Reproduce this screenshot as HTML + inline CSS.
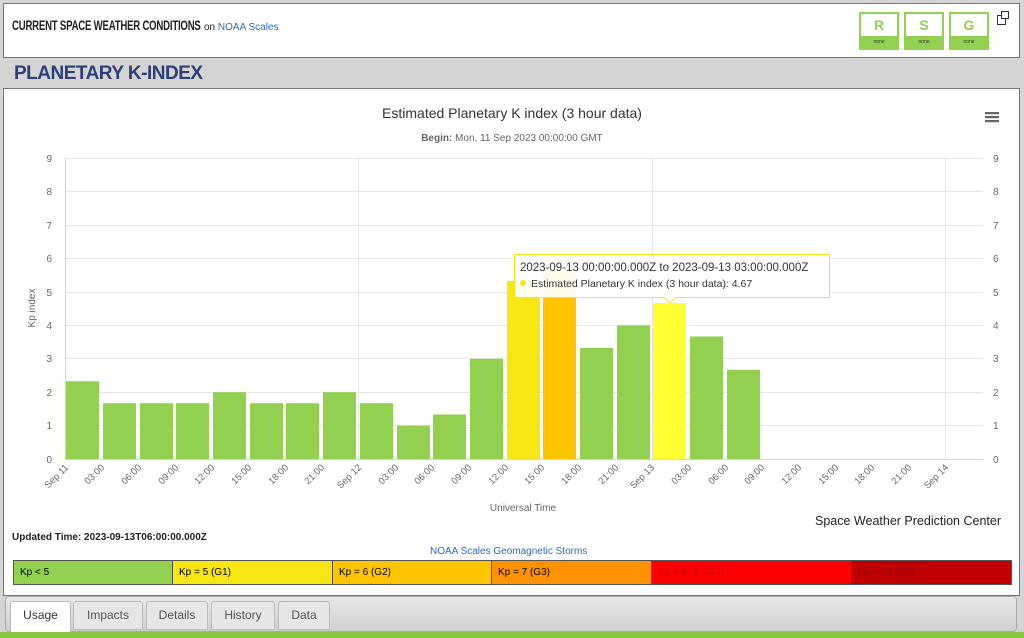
<!DOCTYPE html>
<html><head><style>
body{margin:0;width:1024px;height:638px;background:#d4d4d4;font-family:"Liberation Sans",sans-serif;position:relative;overflow:hidden}
.a{position:absolute}
.seg{box-sizing:border-box;padding-left:6px;height:23px}
</style></head><body>
<div class="a" style="left:3px;top:3px;width:1015px;height:53px;background:#fff;border:1px solid #777"></div>
<div class="a" style="left:12px;top:17px;font-size:14px;font-weight:bold;transform:scaleX(0.685);transform-origin:left;letter-spacing:-0.3px;color:#222;white-space:nowrap">CURRENT SPACE WEATHER CONDITIONS</div>
<div class="a" style="left:204px;top:22px;font-size:10px;color:#222">on <span style="color:#2a6db5">NOAA Scales</span></div>
<div class="a" style="left:859px;top:12px;width:40px;height:38px;border:2px solid #92d050;box-sizing:border-box;background:#fff"><div style="text-align:center;font-weight:bold;color:#92d050;font-size:14px;margin-top:3px">R</div><div class="a" style="left:0;bottom:0;width:36px;height:12px;background:#92d050;font-size:5px;color:#333;text-align:center;line-height:12px">none</div></div>
<div class="a" style="left:904px;top:12px;width:40px;height:38px;border:2px solid #92d050;box-sizing:border-box;background:#fff"><div style="text-align:center;font-weight:bold;color:#92d050;font-size:14px;margin-top:3px">S</div><div class="a" style="left:0;bottom:0;width:36px;height:12px;background:#92d050;font-size:5px;color:#333;text-align:center;line-height:12px">none</div></div>
<div class="a" style="left:949px;top:12px;width:40px;height:38px;border:2px solid #92d050;box-sizing:border-box;background:#fff"><div style="text-align:center;font-weight:bold;color:#92d050;font-size:14px;margin-top:3px">G</div><div class="a" style="left:0;bottom:0;width:36px;height:12px;background:#92d050;font-size:5px;color:#333;text-align:center;line-height:12px">none</div></div>
<div class="a" style="left:997px;top:15px;width:7px;height:8px;border:1px solid #333;background:#fff"></div>
<div class="a" style="left:1001px;top:11px;width:6px;height:6px;border:1px solid #333;background:#fff"></div>
<div class="a" style="left:14px;top:63px;font-size:19px;font-weight:bold;color:#2b3f7a;letter-spacing:-0.5px">PLANETARY K-INDEX</div>
<div class="a" style="left:3px;top:88px;width:1015px;height:506px;background:#fff;border:1px solid #777"></div>
<svg class="a" style="left:0;top:0" width="1024" height="600" font-family="Liberation Sans, sans-serif">
<text x="512" y="118" text-anchor="middle" font-size="14" fill="#333">Estimated Planetary K index (3 hour data)</text>
<text x="512" y="141" text-anchor="middle" font-size="10" fill="#666"><tspan font-weight="bold">Begin:</tspan> Mon, 11 Sep 2023 00:00:00 GMT</text>
<g fill="#666"><rect x="985" y="112" width="14" height="2.2"/><rect x="985" y="116" width="14" height="2.2"/><rect x="985" y="120" width="14" height="2.2"/></g>
<g stroke="#e6e6e6" stroke-width="1">
<line x1="65" x2="983" y1="158.5" y2="158.5"/><line x1="65" x2="983" y1="191.5" y2="191.5"/><line x1="65" x2="983" y1="225.5" y2="225.5"/><line x1="65" x2="983" y1="258.5" y2="258.5"/><line x1="65" x2="983" y1="292.5" y2="292.5"/><line x1="65" x2="983" y1="325.5" y2="325.5"/><line x1="65" x2="983" y1="358.5" y2="358.5"/><line x1="65" x2="983" y1="392.5" y2="392.5"/><line x1="65" x2="983" y1="425.5" y2="425.5"/>
<line x1="358.5" x2="358.5" y1="158" y2="459"/><line x1="652.5" x2="652.5" y1="158" y2="459"/><line x1="945.5" x2="945.5" y1="158" y2="459"/>
</g>
<line x1="65.5" x2="65.5" y1="158" y2="459" stroke="#ccd6eb"/>
<line x1="65" x2="983" y1="459.5" y2="459.5" stroke="#ccd6eb"/>
<g font-size="10" fill="#666" text-anchor="end">
<text x="52" y="162">9</text><text x="52" y="195">8</text><text x="52" y="229">7</text><text x="52" y="262">6</text><text x="52" y="296">5</text><text x="52" y="329">4</text><text x="52" y="362">3</text><text x="52" y="396">2</text><text x="52" y="429">1</text><text x="52" y="463">0</text>
</g>
<g font-size="10" fill="#666">
<text x="993" y="162">9</text><text x="993" y="195">8</text><text x="993" y="229">7</text><text x="993" y="262">6</text><text x="993" y="296">5</text><text x="993" y="329">4</text><text x="993" y="362">3</text><text x="993" y="396">2</text><text x="993" y="429">1</text><text x="993" y="463">0</text>
</g>
<text transform="translate(35,308) rotate(-90)" text-anchor="middle" font-size="10" fill="#666">Kp index</text>
<g>
<rect x="66" y="381.2" width="33" height="77.8" fill="#92d050"/>
<rect x="103" y="403.2" width="33" height="55.8" fill="#92d050"/>
<rect x="140" y="403.2" width="33" height="55.8" fill="#92d050"/>
<rect x="176" y="403.2" width="33" height="55.8" fill="#92d050"/>
<rect x="213" y="392.2" width="33" height="66.8" fill="#92d050"/>
<rect x="250" y="403.2" width="33" height="55.8" fill="#92d050"/>
<rect x="286" y="403.2" width="33" height="55.8" fill="#92d050"/>
<rect x="323" y="392.2" width="33" height="66.8" fill="#92d050"/>
<rect x="360" y="403.2" width="33" height="55.8" fill="#92d050"/>
<rect x="397" y="425.6" width="33" height="33.4" fill="#92d050"/>
<rect x="433" y="414.5" width="33" height="44.5" fill="#92d050"/>
<rect x="470" y="358.8" width="33" height="100.2" fill="#92d050"/>
<rect x="507" y="281" width="33" height="178" fill="#f5e614"/>
<rect x="543" y="270" width="33" height="189" fill="#ffc500"/>
<rect x="580" y="348" width="33" height="111" fill="#92d050"/>
<rect x="617" y="325.4" width="33" height="133.6" fill="#92d050"/>
<rect x="653" y="303" width="33" height="156" fill="#ffff33"/>
<rect x="690" y="336.5" width="33" height="122.5" fill="#92d050"/>
<rect x="727" y="369.8" width="33" height="89.2" fill="#92d050"/>
</g>
<g font-size="9.5" fill="#666" text-anchor="end">
<text transform="translate(69,468) rotate(-45)">Sep 11</text>
<text transform="translate(105,468) rotate(-45)">03:00</text>
<text transform="translate(142,468) rotate(-45)">06:00</text>
<text transform="translate(179,468) rotate(-45)">09:00</text>
<text transform="translate(215,468) rotate(-45)">12:00</text>
<text transform="translate(252,468) rotate(-45)">15:00</text>
<text transform="translate(289,468) rotate(-45)">18:00</text>
<text transform="translate(325,468) rotate(-45)">21:00</text>
<text transform="translate(362,468) rotate(-45)">Sep 12</text>
<text transform="translate(399,468) rotate(-45)">03:00</text>
<text transform="translate(435,468) rotate(-45)">06:00</text>
<text transform="translate(472,468) rotate(-45)">09:00</text>
<text transform="translate(509,468) rotate(-45)">12:00</text>
<text transform="translate(545,468) rotate(-45)">15:00</text>
<text transform="translate(582,468) rotate(-45)">18:00</text>
<text transform="translate(619,468) rotate(-45)">21:00</text>
<text transform="translate(655,468) rotate(-45)">Sep 13</text>
<text transform="translate(692,468) rotate(-45)">03:00</text>
<text transform="translate(729,468) rotate(-45)">06:00</text>
<text transform="translate(765,468) rotate(-45)">09:00</text>
<text transform="translate(802,468) rotate(-45)">12:00</text>
<text transform="translate(839,468) rotate(-45)">15:00</text>
<text transform="translate(875,468) rotate(-45)">18:00</text>
<text transform="translate(912,468) rotate(-45)">21:00</text>
<text transform="translate(949,468) rotate(-45)">Sep 14</text>
</g>
<text x="523" y="511" text-anchor="middle" font-size="10" fill="#666">Universal Time</text>
<text x="1001" y="525" text-anchor="end" font-size="12.5" fill="#222">Space Weather Prediction Center</text>
<path d="M514.5,254.5 H829.5 V297.5 H676 L670,303 L664,297.5 H514.5 Z" fill="#fff" fill-opacity="0.92" stroke="#f5e614"/>
<text x="520" y="271" font-size="11.5" fill="#333">2023-09-13 00:00:00.000Z to 2023-09-13 03:00:00.000Z</text>
<circle cx="523" cy="283" r="3" fill="#f5e614"/>
<text x="531" y="287" font-size="10.5" fill="#333">Estimated Planetary K index (3 hour data): 4.67</text>
</svg>
<div class="a" style="left:12px;top:532px;font-size:10px;font-weight:bold;color:#222">Updated Time: 2023-09-13T06:00:00.000Z</div>
<div class="a" style="left:430px;top:546px;font-size:10px;color:#2a6db5">NOAA Scales Geomagnetic Storms</div>
<div class="a" style="left:13px;top:560px;width:997px;height:23px;border:1px solid #555;display:flex;font-size:10px;line-height:23px">
<div class="seg" style="width:159px;background:#92d050;border-right:1px solid #555">Kp &lt; 5</div>
<div class="seg" style="width:160px;background:#f5e614;border-right:1px solid #555">Kp = 5 (G1)</div>
<div class="seg" style="width:159px;background:#ffc500;border-right:1px solid #555">Kp = 6 (G2)</div>
<div class="seg" style="width:160px;background:#ff9200;border-right:1px solid #555">Kp = 7 (G3)</div>
<div class="seg" style="width:199px;background:#ff0000;color:#c00">Kp = 8, 9- (G4)</div>
<div class="seg" style="flex:1;background:#c00000;color:#900">Kp = 9o (G5)</div>
</div>
<div class="a" style="left:5px;top:596px;width:1010px;height:34px;background:linear-gradient(#e8e8e8,#cfcfcf);border:1px solid #aaa;border-radius:4px"></div>
<div class="a" style="left:10px;top:601px;width:59px;height:30px;background:#fff;border:1px solid #bbb;border-bottom:none;border-radius:3px 3px 0 0;font-size:12px;color:#333;text-align:center;line-height:27px">Usage</div>
<div class="a" style="left:73px;top:601px;width:68px;height:27px;background:#e6e6e6;border:1px solid #bbb;border-radius:3px 3px 0 0;font-size:12px;color:#555;text-align:center;line-height:27px">Impacts</div>
<div class="a" style="left:146px;top:601px;width:60px;height:27px;background:#e6e6e6;border:1px solid #bbb;border-radius:3px 3px 0 0;font-size:12px;color:#555;text-align:center;line-height:27px">Details</div>
<div class="a" style="left:211px;top:601px;width:62px;height:27px;background:#e6e6e6;border:1px solid #bbb;border-radius:3px 3px 0 0;font-size:12px;color:#555;text-align:center;line-height:27px">History</div>
<div class="a" style="left:278px;top:601px;width:50px;height:27px;background:#e6e6e6;border:1px solid #bbb;border-radius:3px 3px 0 0;font-size:12px;color:#555;text-align:center;line-height:27px">Data</div>
<div class="a" style="left:0;top:632px;width:1024px;height:6px;background:#8cc63f"></div>
</body></html>
